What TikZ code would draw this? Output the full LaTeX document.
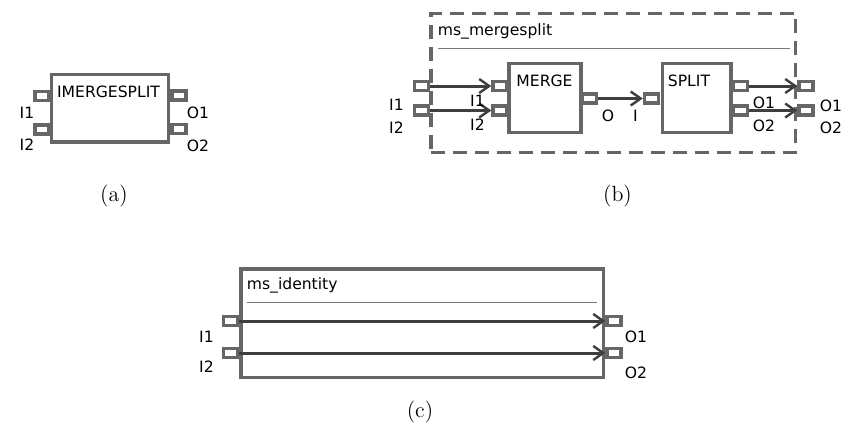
\documentclass[tikz,border=0pt]{standalone}
\usepackage{fontspec}
\newfontfamily\labelfont{DejaVu Sans}
\usetikzlibrary{arrows.meta}

\definecolor{framegray}{HTML}{666666}
\definecolor{wiregray}{HTML}{3E3E3E}
\definecolor{rulegray}{HTML}{777777}

\tikzset{
  blockbox/.style={draw=framegray, line width=1.6pt, fill=white, inner sep=0pt},
  groupframe/.style={draw=framegray, line width=1.6pt, dash pattern=on 7pt off 4pt, inner sep=0pt},
  port/.style={draw=framegray, line width=1.7pt, fill=white,
               minimum width=7pt, minimum height=4.6pt, inner sep=0pt},
  wire/.style={draw=wiregray, line width=1.5pt,
               -{Straight Barb[length=5pt, width=7pt, line width=1.2pt]}},
  sep/.style={draw=rulegray, line width=0.7pt},
  lbl/.style={font=\labelfont\fontsize{7.8}{9}\selectfont, inner sep=0pt},
  caption/.style={font=\fontsize{11}{13}\selectfont, inner sep=0pt}
}

\begin{document}
\begin{tikzpicture}[x=0.5pt, y=-0.5pt]
  \useasboundingbox (0,0) rectangle (843,436);

  % ---------- (a) IMERGESPLIT ----------
  \node[blockbox, minimum width=58.6pt, minimum height=33.9pt] (abox) at (110.1,108) {};
  \node[lbl] (atitle) at (108.5,91.5) {IMERGESPLIT};
  \node[port] (pai1) at (42,96) {};
  \node[port] (pai2) at (42,129.5) {};
  \node[port] (pao1) at (179,95.5) {};
  \node[port] (pao2) at (179,129) {};
  \node[lbl] (lai1) at (27,113) {I1};
  \node[lbl] (lai2) at (27,145) {I2};
  \node[lbl] (lao1) at (198,112.5) {O1};
  \node[lbl] (lao2) at (198,146) {O2};
  \node[caption] (capa) at (114,196) {(a)};

  % ---------- (b) ms_mergesplit ----------
  \node[groupframe, minimum width=182.4pt, minimum height=69.5pt] (bframe) at (613.3,82.85) {};
  \node[lbl, anchor=west] (btitle) at (437.5,31) {ms\_mergesplit};
  \draw[sep] (438,48.3) -- (790,48.3);

  \node[blockbox, minimum width=36pt, minimum height=34.5pt] (merge) at (544.9,98) {};
  \node[lbl] (mtitle) at (544.5,81) {MERGE};
  \node[blockbox, minimum width=34.2pt, minimum height=34.5pt] (split) at (696.7,98) {};
  \node[lbl] (stitle) at (689,81) {SPLIT};

  \node[port] (pbi1) at (421.5,86) {};
  \node[port] (pbi2) at (421.5,110.5) {};
  \node[port] (pmi1) at (500,86) {};
  \node[port] (pmi2) at (500,110.5) {};
  \node[port] (pmo) at (589.5,98.5) {};
  \node[port] (psi) at (651.5,98.5) {};
  \node[port] (pso1) at (740.5,86) {};
  \node[port] (pso2) at (740.5,110.5) {};
  \node[port] (pbo1) at (806,86) {};
  \node[port] (pbo2) at (806,110.5) {};

  \draw[wire] (pbi1.east) -- (pmi1.west);
  \draw[wire] (pbi2.east) -- (pmi2.west);
  \draw[wire] (pmo.east) -- (psi.west);
  \draw[wire] (pso1.east) -- (pbo1.west);
  \draw[wire] (pso2.east) -- (pbo2.west);

  \node[lbl] (lbi1) at (396.5,105) {I1};
  \node[lbl] (lbi2) at (396.5,127.5) {I2};
  \node[lbl] (lmi1) at (477.5,100.5) {I1};
  \node[lbl] (lmi2) at (477.5,125) {I2};
  \node[lbl] (lmo) at (608,116) {O};
  \node[lbl] (lsi) at (635.5,115.5) {I};
  \node[lbl] (lso1) at (764,103) {O1};
  \node[lbl] (lso2) at (764,126) {O2};
  \node[lbl] (lbo1) at (831,105.5) {O1};
  \node[lbl] (lbo2) at (831,127.5) {O2};
  \node[caption] (capb) at (617.5,196.5) {(b)};

  % ---------- (c) ms_identity ----------
  \node[blockbox, minimum width=181.25pt, minimum height=54.25pt] (cbox) at (422.15,323.15) {};
  \node[lbl, anchor=west] (ctitle) at (246.5,285) {ms\_identity};
  \draw[sep] (246.7,302.3) -- (597.3,302.3);

  \node[port] (pci1) at (230.5,321) {};
  \node[port] (pci2) at (230.5,353) {};
  \node[port] (pco1) at (614,321) {};
  \node[port] (pco2) at (614,353) {};

  \draw[wire] (pci1.east) -- (pco1.west);
  \draw[wire] (pci2.east) -- (pco2.west);

  \node[lbl] (lci1) at (206.5,337) {I1};
  \node[lbl] (lci2) at (206.5,367) {I2};
  \node[lbl] (lco1) at (636,337) {O1};
  \node[lbl] (lco2) at (636,372.5) {O2};
  \node[caption] (capc) at (420,412) {(c)};
\end{tikzpicture}
\end{document}
